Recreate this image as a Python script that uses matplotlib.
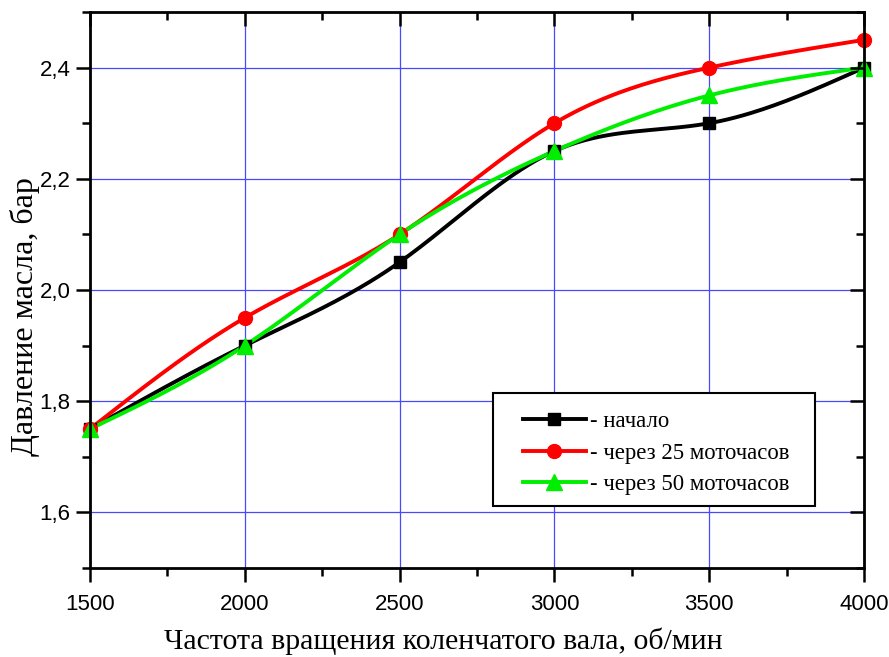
import matplotlib
matplotlib.use('Agg')
import matplotlib.pyplot as plt
from matplotlib.ticker import MultipleLocator, FuncFormatter
from matplotlib.patches import Rectangle
import numpy as np

rpm = [1500, 2000, 2500, 3000, 3500, 4000]
p_start = [1.75, 1.90, 2.05, 2.25, 2.30, 2.40]
p_25h = [1.75, 1.95, 2.10, 2.30, 2.40, 2.45]
p_50h = [1.75, 1.90, 2.10, 2.25, 2.35, 2.40]
labels = ['- начало', '- через 25 моточасов', '- через 50 моточасов']


def spline(x, y, n=200):
    # natural cubic spline, only for drawing the smooth curve between points
    x = np.asarray(x, float)
    y = np.asarray(y, float)
    k = len(x)
    h = np.diff(x)
    A = np.zeros((k, k))
    b = np.zeros(k)
    A[0, 0] = A[-1, -1] = 1
    for i in range(1, k - 1):
        A[i, i - 1] = h[i - 1]
        A[i, i] = 2 * (h[i - 1] + h[i])
        A[i, i + 1] = h[i]
        b[i] = 6 * ((y[i + 1] - y[i]) / h[i] - (y[i] - y[i - 1]) / h[i - 1])
    m = np.linalg.solve(A, b)
    xs = np.linspace(x[0], x[-1], n)
    idx = np.clip(np.searchsorted(x, xs) - 1, 0, k - 2)
    t = xs - x[idx]
    hi = h[idx]
    a = y[idx]
    bb = (y[idx + 1] - y[idx]) / hi - hi * (2 * m[idx] + m[idx + 1]) / 6
    c = m[idx] / 2
    d = (m[idx + 1] - m[idx]) / (6 * hi)
    return xs, a + bb * t + c * t ** 2 + d * t ** 3


fig = plt.figure(figsize=(8.89, 6.57), dpi=100)
ax = fig.add_axes([0.1012, 0.1355, 0.8708, 0.8462])

series = [(p_start, 'black', 's', 9), (p_25h, '#ff0000', 'o', 10), (p_50h, '#00ee00', '^', 11)]
handles = []
for (vals, col, mk, ms), lab in zip(series, labels):
    xs, ys = spline(rpm, vals)
    ax.plot(xs, ys, color=col, lw=2.8, zorder=3, clip_on=False)
    ax.plot(rpm, vals, ls='none', marker=mk, color=col, ms=ms, zorder=4, clip_on=False)
    h, = ax.plot([], [], color=col, lw=2.8, marker=mk, ms=ms)
    handles.append(h)

ax.set_xlim(1500, 4000)
ax.set_ylim(1.5, 2.5)
ax.xaxis.set_major_locator(MultipleLocator(500))
ax.xaxis.set_minor_locator(MultipleLocator(250))
ax.yaxis.set_major_locator(MultipleLocator(0.2))
ax.yaxis.set_minor_locator(MultipleLocator(0.1))
ax.yaxis.set_major_formatter(FuncFormatter(lambda v, p: f'{v:.1f}'.replace('.', ',')))
ax.grid(True, which='major', color='#4848ff', lw=0.9, zorder=1)

for s in ax.spines.values():
    s.set_linewidth(2)
    s.set_zorder(6)
ax.tick_params(which='both', width=1.8, labelsize=16, direction='out')
ax.tick_params(axis='x', pad=9)
ax.tick_params(axis='y', pad=4)
ax.tick_params(which='major', length=10)
ax.tick_params(which='minor', length=6)
for lbl in ax.get_xticklabels() + ax.get_yticklabels():
    lbl.set_family('Liberation Sans')

ax2 = ax.secondary_xaxis('top')
ax2.xaxis.set_major_locator(MultipleLocator(500))
ax2.xaxis.set_minor_locator(MultipleLocator(250))
ax2.tick_params(which='both', direction='in', width=1.8, labeltop=False)
ax2.tick_params(which='major', length=10)
ax2.tick_params(which='minor', length=6)
ax2.set_zorder(5)
ax3 = ax.secondary_yaxis('right')
ax3.yaxis.set_major_locator(MultipleLocator(0.2))
ax3.yaxis.set_minor_locator(MultipleLocator(0.1))
ax3.tick_params(which='both', direction='in', width=1.8, labelright=False)
ax3.tick_params(which='major', length=10)
ax3.tick_params(which='minor', length=6)
ax3.set_zorder(5)

ax.set_xlabel('Частота вращения коленчатого вала, об/мин', family='Liberation Serif',
              fontsize=21.5)
ax.xaxis.set_label_coords(0.457, -0.107)
ax.set_ylabel('Давление масла, бар', family='Liberation Serif', fontsize=23)
ax.yaxis.set_label_coords(-0.064, 0.453)

# legend frame drawn separately so its margins match the original
ax.add_patch(Rectangle((0.5207, 0.1115), 0.416, 0.2032, transform=ax.transAxes,
                       facecolor='white', edgecolor='black', lw=1.5, zorder=7))
leg = ax.legend(handles, labels, loc='center left', bbox_to_anchor=(0.5594, 0.2065),
                prop={'family': 'Liberation Serif', 'size': 16.4}, frameon=False,
                handlelength=2.75, borderpad=0, borderaxespad=0,
                labelspacing=0.45, handletextpad=0.17)
leg.set_zorder(8)

fig.savefig('out.png', dpi=100)
